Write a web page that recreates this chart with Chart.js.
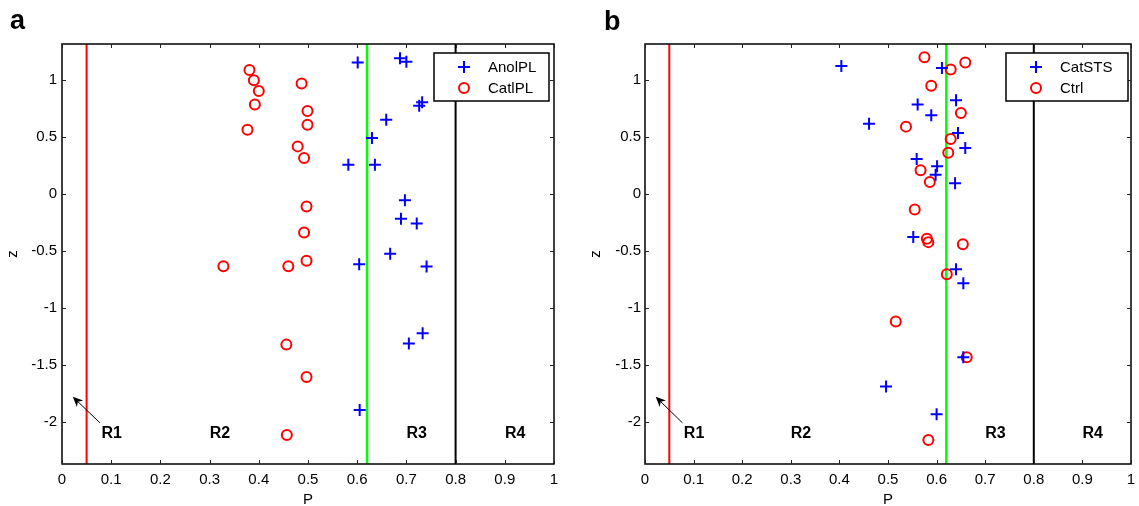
<!DOCTYPE html>
<html><head><meta charset="utf-8">
<script src="https://cdn.jsdelivr.net/npm/chart.js@4.4.1/dist/chart.umd.min.js"></script>
<style>
html,body{margin:0;padding:0;background:#fff;}
body{width:1139px;height:506px;position:relative;overflow:hidden;font-family:"Liberation Sans",Arial,sans-serif;}
canvas{position:absolute;top:0;}
#ca{left:0}
#cb{left:580px}
.lbl{position:absolute;font-weight:bold;font-size:27px;line-height:1;z-index:5;color:#000;}
</style></head><body>
<canvas id="ca" width="580" height="506"></canvas>
<canvas id="cb" width="559" height="506"></canvas>
<div class="lbl" style="left:10px;top:7px">a</div>
<div class="lbl" style="left:604px;top:8px">b</div>
<script>
// ---- data ----
const xTicks = [0,0.1,0.2,0.3,0.4,0.5,0.6,0.7,0.8,0.9,1];
const xTickLabels = ['0','0.1','0.2','0.3','0.4','0.5','0.6','0.7','0.8','0.9','1'];
const zTicks = [-2,-1.5,-1,-0.5,0,0.5,1];
const zTickLabels = ['-2','-1.5','-1','-0.5','0','0.5','1'];
const pRange = [0,1];
const zRange = [-2.365,1.315];
const regionBounds = [0.05,0.62,0.8];
const regionColors = ['#ff0000','#00ff00','#000000'];
const regionLabels = ['R1','R2','R3','R4'];
const regionLabelP = [0.101,0.321,0.721,0.921];
const regionLabelZ = -2.10;
const arrowFrom = [0.077,-2.004];
const arrowTo = [0.022,-1.776];

// panel a
const anolP = [0.601,0.687,0.700,0.726,0.732,0.659,0.630,0.582,0.636,0.697,0.689,0.721,0.667,0.604,0.741,0.733,0.705,0.605];
const anolZ = [1.152,1.19,1.16,0.775,0.804,0.652,0.491,0.257,0.257,-0.053,-0.216,-0.257,-0.523,-0.614,-0.634,-1.219,-1.31,-1.892];
const catP = [0.381,0.390,0.400,0.392,0.377,0.487,0.499,0.499,0.479,0.492,0.497,0.492,0.497,0.328,0.460,0.456,0.497,0.457];
const catZ = [1.088,0.997,0.904,0.784,0.564,0.968,0.728,0.608,0.418,0.316,-0.108,-0.336,-0.585,-0.632,-0.632,-1.319,-1.602,-2.111];
// panel b
const stsP = [0.404,0.611,0.640,0.561,0.589,0.461,0.644,0.659,0.559,0.601,0.598,0.638,0.552,0.640,0.655,0.655,0.496,0.600];
const stsZ = [1.123,1.105,0.822,0.784,0.690,0.617,0.535,0.404,0.307,0.243,0.170,0.096,-0.377,-0.658,-0.781,-1.430,-1.687,-1.930];
const ctrlP = [0.575,0.659,0.629,0.589,0.650,0.537,0.629,0.624,0.567,0.586,0.555,0.580,0.583,0.654,0.621,0.516,0.662,0.583];
const ctrlZ = [1.199,1.152,1.091,0.950,0.711,0.591,0.482,0.363,0.208,0.105,-0.135,-0.392,-0.421,-0.439,-0.702,-1.117,-1.430,-2.155];

const FONT = '"Liberation Sans", Arial, sans-serif';
const zip = (a,b) => a.map((v,i)=>({x:v,y:b[i]}));

const framePlugin = {
  id:'frame',
  afterDatasetsDraw(chart){
    const ctx = chart.ctx, ca = chart.chartArea, xs = chart.scales.x, ys = chart.scales.y;
    ctx.save();
    // region labels
    ctx.fillStyle='#000';
    ctx.font = 'bold 16px ' + FONT;
    ctx.textAlign='center'; ctx.textBaseline='middle';
    regionLabels.forEach((t,i)=>{
      ctx.fillText(t, xs.getPixelForValue(regionLabelP[i]), ys.getPixelForValue(regionLabelZ));
    });
    // arrow
    const x1 = xs.getPixelForValue(arrowFrom[0]), y1 = ys.getPixelForValue(arrowFrom[1]);
    const x2 = xs.getPixelForValue(arrowTo[0]), y2 = ys.getPixelForValue(arrowTo[1]);
    const ang = Math.atan2(y2-y1, x2-x1), hl = 10, hw = 4.5;
    ctx.strokeStyle='#000'; ctx.lineWidth=1;
    ctx.beginPath(); ctx.moveTo(x1,y1); ctx.lineTo(x2 - Math.cos(ang)*hl*0.6, y2 - Math.sin(ang)*hl*0.6); ctx.stroke();
    ctx.beginPath();
    ctx.moveTo(x2,y2);
    ctx.lineTo(x2 - Math.cos(ang)*hl + Math.sin(ang)*hw, y2 - Math.sin(ang)*hl - Math.cos(ang)*hw);
    ctx.lineTo(x2 - Math.cos(ang)*hl*0.7, y2 - Math.sin(ang)*hl*0.7);
    ctx.lineTo(x2 - Math.cos(ang)*hl - Math.sin(ang)*hw, y2 - Math.sin(ang)*hl + Math.cos(ang)*hw);
    ctx.closePath(); ctx.fillStyle='#000'; ctx.fill();
    // frame
    ctx.strokeStyle='#000'; ctx.lineWidth=1.5;
    ctx.strokeRect(ca.left, ca.top, ca.right-ca.left, ca.bottom-ca.top);
    // inward ticks
    ctx.lineWidth=1; ctx.strokeStyle='#222';
    const tl = 4;
    ctx.beginPath();
    xs.ticks.forEach(t=>{
      const px = Math.round(xs.getPixelForValue(t.value))+0.5;
      ctx.moveTo(px, ca.bottom); ctx.lineTo(px, ca.bottom-tl);
      ctx.moveTo(px, ca.top); ctx.lineTo(px, ca.top+tl);
    });
    ys.ticks.forEach(t=>{
      const py = Math.round(ys.getPixelForValue(t.value))+0.5;
      ctx.moveTo(ca.left, py); ctx.lineTo(ca.left+tl, py);
      ctx.moveTo(ca.right, py); ctx.lineTo(ca.right-tl, py);
    });
    ctx.stroke();
    ctx.restore();
  },
  afterDraw(chart, args, opts){
    const ctx = chart.ctx, ca = chart.chartArea;
    const right = ca.right - opts.rightGap, left = right - opts.width;
    const top = ca.top + 9, h = 48;
    ctx.save();
    ctx.fillStyle='#fff'; ctx.fillRect(left, top, opts.width, h);
    ctx.strokeStyle='#000'; ctx.lineWidth=1.5; ctx.strokeRect(left, top, opts.width, h);
    let row = 0;
    chart.data.datasets.forEach(ds=>{
      if (!ds.inLegend) return;
      const y = top + 14 + row*21;
      const mx = left + 30;
      ctx.strokeStyle = ds.borderColor; ctx.lineWidth = ds.borderWidth;
      ctx.beginPath();
      if (ds.pointStyle==='cross'){
        ctx.moveTo(mx-ds.pointRadius,y); ctx.lineTo(mx+ds.pointRadius,y);
        ctx.moveTo(mx,y-ds.pointRadius); ctx.lineTo(mx,y+ds.pointRadius);
      } else {
        ctx.arc(mx,y,ds.pointRadius,0,Math.PI*2);
      }
      ctx.stroke();
      ctx.fillStyle='#000'; ctx.font='15px '+FONT; ctx.textAlign='left'; ctx.textBaseline='middle';
      ctx.fillText(ds.label, left+54, y+1);
      row++;
    });
    ctx.restore();
  }
};

function makeChart(id, s1, s2, cfg){
  const datasets = [
    {label:s1.label, data: zip(s1.p, s1.z), pointStyle:'cross', pointRadius:6, borderWidth:2, borderColor:'#0000ff', backgroundColor:'#0000ff', inLegend:true, pointHoverRadius:6},
    {label:s2.label, data: zip(s2.p, s2.z), pointStyle:'circle', pointRadius:5, borderWidth:2, borderColor:'#ff0000', backgroundColor:'rgba(0,0,0,0)', inLegend:true, pointHoverRadius:5}
  ];
  regionBounds.forEach((b,i)=>{
    datasets.push({label:'bound'+i, data:[{x:b,y:zRange[0]},{x:b,y:zRange[1]}], showLine:true, borderColor:regionColors[i], borderWidth: i===1?2.5:2, pointRadius:0, fill:false});
  });
  return new Chart(document.getElementById(id), {
    type:'scatter',
    data:{datasets},
    plugins:[framePlugin],
    options:{
      responsive:false, animation:false, devicePixelRatio:1, events:[],
      layout:{padding:{left:0, top:44, right:cfg.padRight, bottom:0}},
      plugins:{legend:{display:false}, tooltip:{enabled:false},
        frame:{width:cfg.legendW, rightGap:cfg.legendGap}},
      scales:{
        x:{type:'linear', position:'bottom', min:pRange[0], max:pRange[1],
          afterBuildTicks:s=>{s.ticks = xTicks.map(v=>({value:v}));},
          afterFit:s=>{s.height=42; s.paddingLeft=0; s.paddingRight=0;},
          grid:{display:false, drawTicks:false}, border:{display:false},
          ticks:{padding:6.5, color:'#000', font:{family:FONT,size:15}, maxRotation:0, autoSkip:false, callback:(v,i)=>xTickLabels[i]},
          title:{display:true, text:'P', color:'#000', font:{family:FONT,size:15,lineHeight:1}, padding:{top:0,bottom:-1}}
        },
        y:{type:'linear', position:'left', min:zRange[0], max:zRange[1],
          afterBuildTicks:s=>{s.ticks = zTicks.map(v=>({value:v}));},
          afterFit:s=>{s.width=cfg.yWidth; s.paddingTop=0; s.paddingBottom=0;},
          grid:{display:false, drawTicks:false}, border:{display:false},
          ticks:{padding:cfg.tickPad, color:'#000', font:{family:FONT,size:15}, autoSkip:false, callback:(v,i)=>zTickLabels[i]},
          title:{display:true, text:'z', color:'#000', font:{family:FONT,size:15,lineHeight:1}, padding:{top:cfg.titlePad,bottom:0}}
        }
      }
    }
  });
}

makeChart('ca', {label:'AnolPL', p:anolP, z:anolZ}, {label:'CatlPL', p:catP, z:catZ},
  {padRight:26, yWidth:62, tickPad:5, titlePad:5.5, legendW:115, legendGap:5});
makeChart('cb', {label:'CatSTS', p:stsP, z:stsZ}, {label:'Ctrl', p:ctrlP, z:ctrlZ},
  {padRight:2, yWidth:65, tickPad:4, titlePad:8, legendW:122, legendGap:3});
</script>
</body></html>
